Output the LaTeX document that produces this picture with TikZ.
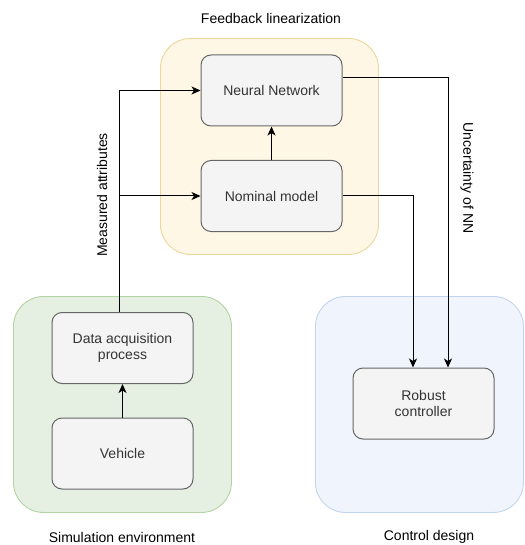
\documentclass[tikz,border=0pt]{standalone}
\usepackage{fontspec}
\setmainfont{Liberation Sans}
\usetikzlibrary{arrows.meta,positioning,calc}

\definecolor{ylwfill}{HTML}{FFF7E5}
\definecolor{ylwline}{HTML}{EBD69C}
\definecolor{grnfill}{HTML}{E5F0E3}
\definecolor{grnline}{HTML}{B3D3A2}
\definecolor{blufill}{HTML}{EFF4FD}
\definecolor{bluline}{HTML}{C3D5EE}
\definecolor{boxfill}{HTML}{F4F4F4}
\definecolor{boxline}{HTML}{666666}
\definecolor{boxtext}{HTML}{333333}

\tikzset{
  group/.style={draw, line width=0.9pt, rounded corners=30pt, anchor=north west, inner sep=0pt},
  block/.style={draw=boxline, fill=boxfill, line width=1pt, rounded corners=10pt,
    minimum width=141pt, minimum height=71pt, inner sep=0pt, text=boxtext,
    align=center, font=\fontsize{14}{16.5}\selectfont},
  caption/.style={font=\fontsize{14}{16.5}\selectfont, text=black, inner sep=0pt},
  link/.style={draw=black, line width=1pt, -{Stealth[length=9pt,width=8pt,inset=2.5pt]}},
}

\begin{document}
\begin{tikzpicture}[x=1pt,y=-1pt]
  \useasboundingbox (0,0) rectangle (524,545);

  % group containers
  \node[group, draw=ylwline, fill=ylwfill, minimum width=218pt, minimum height=216pt] (fb) at (160,38) {};
  \node[group, draw=grnline, fill=grnfill, minimum width=218pt, minimum height=216pt] (sim) at (13,296) {};
  \node[group, draw=bluline, fill=blufill, minimum width=208pt, minimum height=216pt] (ctl) at (315,296) {};

  % group captions
  \node[caption] (fbcap) at (271,18) {Feedback linearization};
  \node[caption] (simcap) at (122,537) {Simulation environment};
  \node[caption] (ctlcap) at (429,537) {Control design};

  % blocks
  \node[block] (nn)  at (271.5,90.5) {Neural Network};
  \node[block] (nom) at (271.5,196) {Nominal model};
  \node[block] (daq) at (122.5,348) {Data acquisition\\process};
  \node[block] (veh) at (122.5,453.5) {Vehicle};
  \node[block] (rob) at (423.5,403.5) {Robust\\controller};

  % trunk of measured attributes
  \coordinate (trunk) at ([xshift=-3.5pt]daq.north);
  \draw[link] (trunk) |- (nn.west);
  \draw[link] (trunk |- nom.west) -- (nom.west);
  \node[caption, rotate=90] (meas) at (102,195) {Measured attributes};

  % inner links
  \draw[link] (veh.north) -- (daq.south);
  \draw[link] (nom.north) -- (nn.south);

  % links into the controller
  \draw[link] ([yshift=12.5pt]nn.east) -| ([xshift=24.5pt]rob.north);
  \draw[link] (nom.east) -| ([xshift=-10.5pt]rob.north);
  \node[caption, rotate=-90] (unc) at (467,178) {Uncertainty of NN};
\end{tikzpicture}
\end{document}
